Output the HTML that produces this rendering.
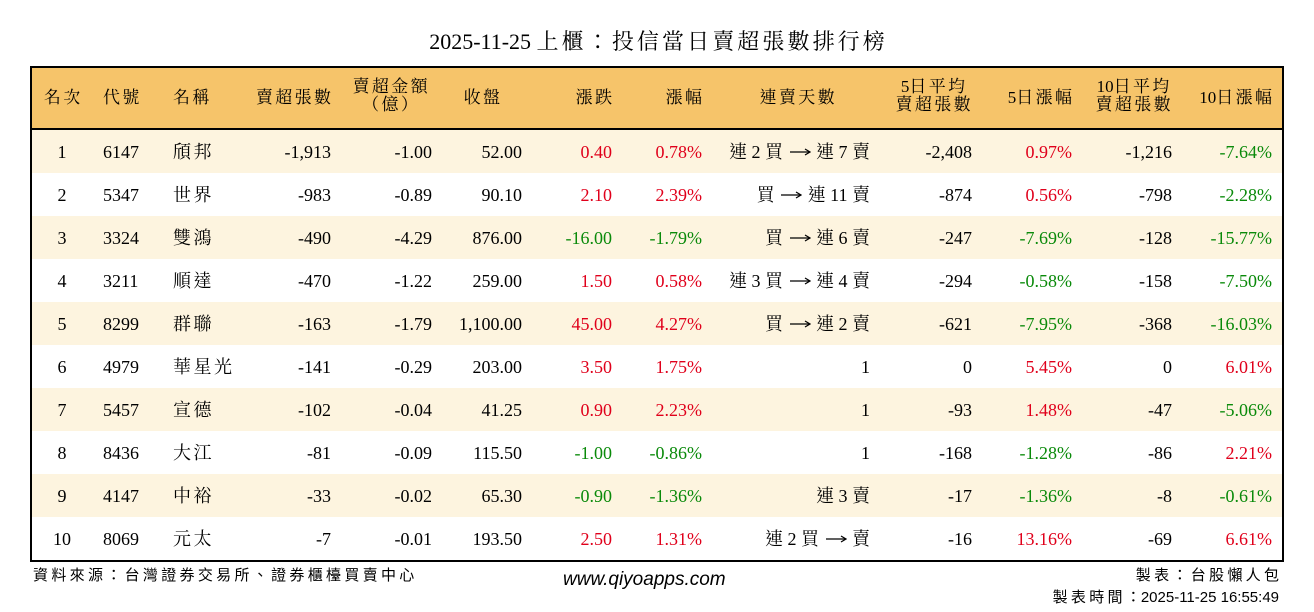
<!DOCTYPE html>
<html><head><meta charset="utf-8"><style>
body{margin:0;width:1314px;height:612px;background:#fff;position:relative;overflow:hidden;font-family:"Liberation Serif","Noto Serif CJK TC","Noto Serif CJK SC",serif;color:#000}
.t{position:absolute;white-space:nowrap;line-height:1}
.r{text-align:right}
.c{text-align:center}
.red{color:#e0001b}.grn{color:#0a8a0a}
.ks{margin-right:.14em}
.ft .ks{margin-right:.22em}
.sp{display:inline-block;width:.25em}
</style></head><body>
<div id="all"></div>
<script>
const ARROW='<svg width="22" height="10" viewBox="0 0 22 10" style="margin:0 1px;vertical-align:1px"><line x1="1" y1="5" x2="20" y2="5" stroke="#000" stroke-width="1.2"/><path d="M16 2 L21 5 L16 8" fill="none" stroke="#000" stroke-width="1.2"/></svg>';
function k(t){
 const ch=[...t];let o="";
 for(let i=0;i<ch.length;i++){
  const c=ch[i];
  if(c=="→"){o+=ARROW;continue;}
  if(c==" "){o+='<span class="sp"></span>';continue;}
  if(/[\u3000-\u9fff\uff00-\uffef]/.test(c) && i<ch.length-1 && ch[i+1]!=" ") o+=`<span class="ks">${c}</span>`;
  else o+=c;
 }
 return o;
}
let s="";
s+=`<div class="t c" style="left:0;width:1314px;top:31px;font-size:22px">${k("2025-11-25 上櫃：投信當日賣超張數排行榜")}</div>`;
s+=`<div style="position:absolute;left:30px;top:66px;width:1250px;height:492px;border:2px solid #000"></div>`;
s+=`<div style="position:absolute;left:32px;top:68px;width:1250px;height:60px;background:#f6c46a;border-bottom:2px solid #000"></div>`;
const H=[["名次",62,"c"],["代號",103,"l"],["名稱",173,"l"],["賣超張數",331,"r"],["賣超金額|（億）",390,"c2"],["收盤",500,"r"],["漲跌",612,"r"],["漲幅",702,"r"],["連賣天數",797,"c"],["5日平均|賣超張數",933,"c2"],["5日漲幅",1072,"r"],["10日平均|賣超張數",1133,"c2"],["10日漲幅",1272,"r"]];
for(const [txt0,x,a] of H){
 const two=a=="c2";
 const txt=txt0.split("|").map(k).join("<br>");
 const top=two?78:89;
 const fs=17;
 if(a=="c"||two) s+=`<div class="t c" style="left:${x-80}px;width:160px;top:${top}px;font-size:${fs}px;line-height:${two?18:17}px">${txt}</div>`;
 else if(a=="l") s+=`<div class="t" style="left:${x}px;top:${top}px;font-size:${fs}px">${txt}</div>`;
 else s+=`<div class="t r" style="right:${1314-x}px;top:${top}px;font-size:${fs}px">${txt}</div>`;
}
const D=[
[1,6147,"頎邦","-1,913","-1.00","52.00","0.40","0.78%","連 2 買 → 連 7 賣","-2,408","0.97%","-1,216","-7.64%"],
[2,5347,"世界","-983","-0.89","90.10","2.10","2.39%","買 → 連 11 賣","-874","0.56%","-798","-2.28%"],
[3,3324,"雙鴻","-490","-4.29","876.00","-16.00","-1.79%","買 → 連 6 賣","-247","-7.69%","-128","-15.77%"],
[4,3211,"順達","-470","-1.22","259.00","1.50","0.58%","連 3 買 → 連 4 賣","-294","-0.58%","-158","-7.50%"],
[5,8299,"群聯","-163","-1.79","1,100.00","45.00","4.27%","買 → 連 2 賣","-621","-7.95%","-368","-16.03%"],
[6,4979,"華星光","-141","-0.29","203.00","3.50","1.75%","1","0","5.45%","0","6.01%"],
[7,5457,"宣德","-102","-0.04","41.25","0.90","2.23%","1","-93","1.48%","-47","-5.06%"],
[8,8436,"大江","-81","-0.09","115.50","-1.00","-0.86%","1","-168","-1.28%","-86","2.21%"],
[9,4147,"中裕","-33","-0.02","65.30","-0.90","-1.36%","連 3 賣","-17","-1.36%","-8","-0.61%"],
[10,8069,"元太","-7","-0.01","193.50","2.50","1.31%","連 2 買 → 賣","-16","13.16%","-69","6.61%"]];
const R=[331,432,522,612,702,870,972,1072,1172,1272];
D.forEach((d,i)=>{
 const y=130+i*43;
 if(i%2==0) s+=`<div style="position:absolute;left:32px;top:${y}px;width:1250px;height:43px;background:#fdf4df"></div>`;
 const ty=y+13,fs=18;
 s+=`<div class="t c" style="left:32px;width:60px;top:${ty}px;font-size:${fs}px">${d[0]}</div>`;
 s+=`<div class="t" style="left:103px;top:${ty}px;font-size:${fs}px">${d[1]}</div>`;
 s+=`<div class="t" style="left:173px;top:${ty}px;font-size:${fs}px">${k(d[2])}</div>`;
 for(let j=3;j<13;j++){
  let cl="";
  if([6,7,10,12].includes(j)) cl=d[j].startsWith("-")?"grn":"red";
  s+=`<div class="t r ${cl}" style="right:${1314-R[j-3]}px;top:${ty}px;font-size:${fs}px">${j==8?k(d[j]):d[j]}</div>`;
 }
});
const SF="font-family:'Liberation Sans','Noto Sans CJK TC',sans-serif;font-size:15px";
s+=`<div class="t ft" style="left:33px;top:568px;${SF}">${k("資料來源：台灣證券交易所、證券櫃檯買賣中心")}</div>`;
s+=`<div class="t" style="left:563px;top:570px;font-size:19px;font-style:italic;font-family:'Liberation Sans',sans-serif">www.qiyoapps.com</div>`;
s+=`<div class="t r ft" style="right:35px;top:568px;${SF}">${k("製表：台股懶人包")}</div>`;
s+=`<div class="t r ft" style="right:35px;top:590px;${SF}">${k("製表時間：")}2025-11-25 16:55:49</div>`;
document.getElementById("all").outerHTML=s;
</script>
</body></html>
